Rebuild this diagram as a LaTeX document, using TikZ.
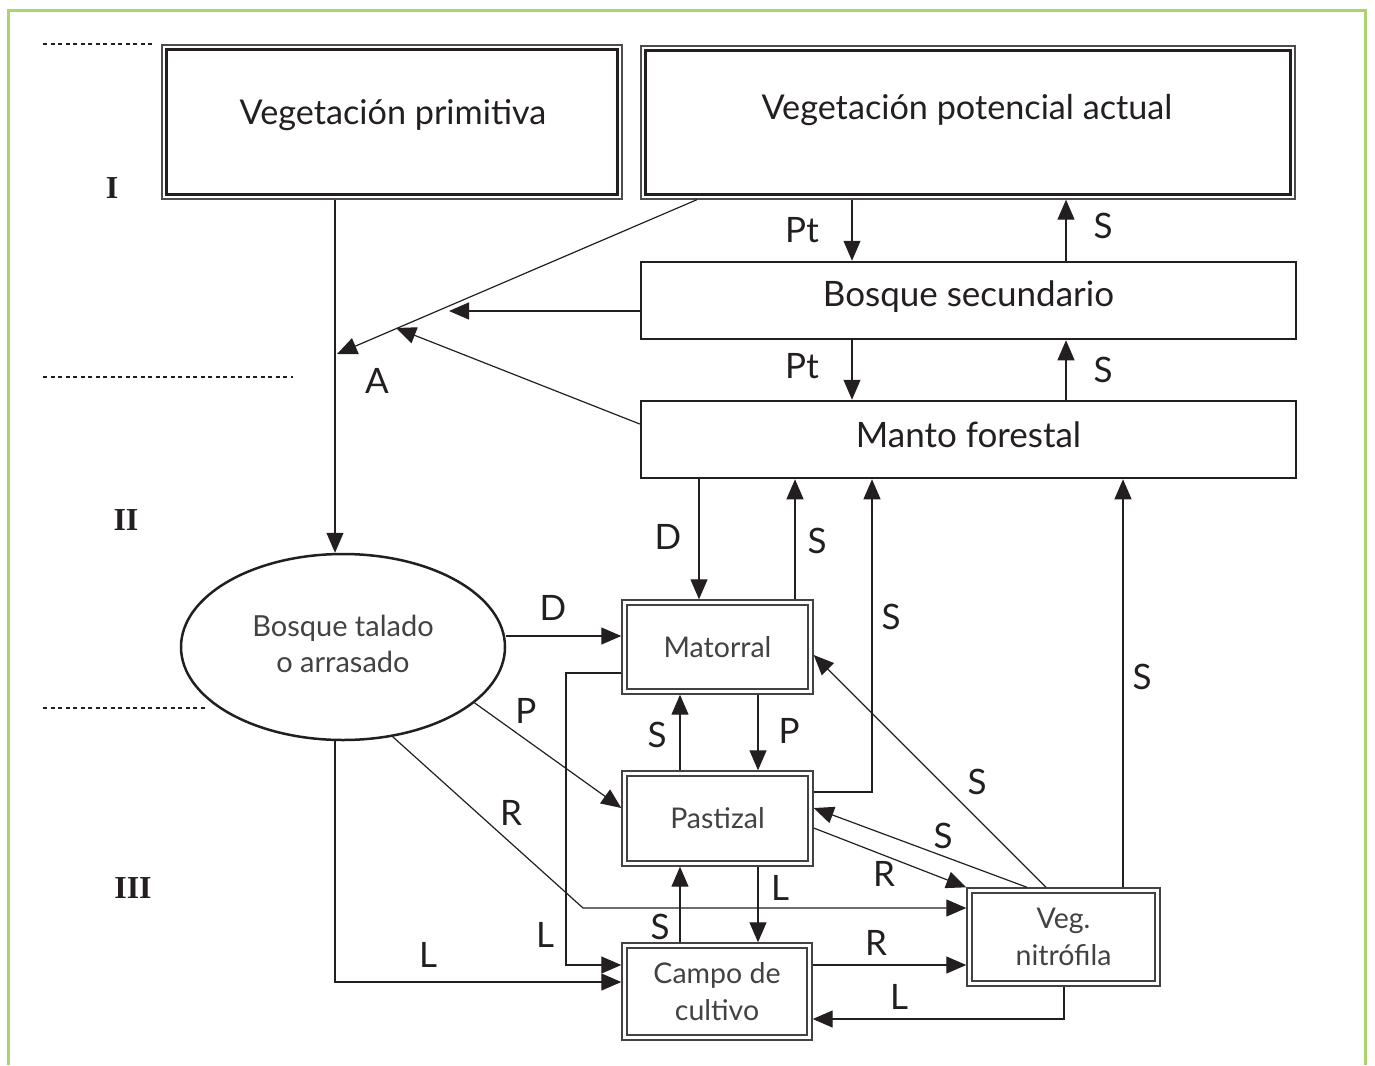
\documentclass[tikz,border=0pt]{standalone}
\usepackage{fontspec}
\setmainfont{Lato}
\newfontfamily\romanfont{Liberation Serif}
\usetikzlibrary{arrows.meta,shapes.geometric,calc}
\definecolor{frame}{RGB}{170,212,110}
\definecolor{ink}{RGB}{35,31,32}
\begin{document}
\begin{tikzpicture}[x=1pt,y=-1pt,
  conn/.style={draw=ink, line width=1.2pt},
  arr/.style={conn, -{Triangle[length=20pt,width=17pt]}},
  lab/.style={font=\fontsize{35}{40}\selectfont, text=ink, inner sep=0pt},
  num/.style={font=\romanfont\bfseries\fontsize{32}{36}\selectfont, text=ink, inner sep=0pt},
  dashline/.style={draw=ink, line width=2pt, dash pattern=on 4pt off 3.5pt},
  bigbox/.style={draw=ink!80, line width=1.3pt, rectangle, inner sep=0pt},
  bigtext/.style={font=\fontsize{34.2}{40}\selectfont, text=ink, inner sep=0pt},
  midbox/.style={draw=ink, line width=2.5pt, rectangle, inner sep=0pt, font=\fontsize{35}{40}\selectfont, text=ink},
  smallbox/.style={draw=ink!85, line width=1.4pt, double=white, double distance=3.6pt, rectangle, inner sep=0pt, outer sep=3.2pt, font=\fontsize{28.5}{37}\selectfont, text=ink!85, align=center},
]
\useasboundingbox (0,0) rectangle (1375,1065);
\draw[frame, line width=3pt] (8.5,1065) -- (8.5,11) -- (1365,11) -- (1365,1065);

% dashed level separators
\draw[dashline] (43,44) -- (155,44);
\draw[dashline] (43,377) -- (293,377);
\draw[dashline] (43,708) -- (205,708);

% level numerals
\node[num] (n1) at (112,188) {I};
\node[num] (n2) at (126,520) {II};
\node[num] (n3) at (133,888) {III};

% top boxes
\node[bigbox, minimum width=460pt, minimum height=154pt] (vprim) at (392,122) {};
\draw[draw=ink, line width=3pt] ([shift={(5.5,5.5)}]vprim.north west) rectangle ([shift={(-5.5,-5.5)}]vprim.south east);
\node[bigtext] (tprim) at (393,115) {Vegetación primitiva};
\node[bigbox, minimum width=654pt, minimum height=153pt] (vpot) at (968,122.5) {};
\draw[draw=ink, line width=3pt] ([shift={(5.5,5.5)}]vpot.north west) rectangle ([shift={(-5.5,-5.5)}]vpot.south east);
\node[bigtext] (tpot) at (967,110) {Vegetación potencial actual};

\node[midbox, minimum width=655pt, minimum height=77pt] (bsec) at (968.5,300.5) {\raisebox{14pt}{Bosque secundario}};
\node[midbox, minimum width=655pt, minimum height=77pt] (mf) at (968.5,439.5) {\raisebox{10pt}{Manto forestal}};

% ellipse
\node[draw=ink, line width=2.5pt, ellipse, minimum width=324pt, minimum height=186pt, inner sep=0pt, align=center,
      font=\fontsize{29}{36}\selectfont, text=ink!85] (ell) at (343,647) {\raisebox{6pt}{Bosque talado}\\\raisebox{6pt}{o arrasado}};

% small boxes
\node[smallbox, minimum width=186pt, minimum height=89pt] (mat) at (717.5,647) {Matorral};
\node[smallbox, minimum width=186pt, minimum height=90pt] (past) at (717.5,818.5) {Pastizal};
\node[smallbox, minimum width=185pt, minimum height=92pt] (camp) at (717,991.5) {Campo de\\cultivo};
\node[smallbox, minimum width=188pt, minimum height=93pt] (veg) at (1063.5,937) {Veg.\\nitrófila};

% helper coordinates
\coordinate (x335) at (335,0);
\coordinate (x566) at (566,0);
\coordinate (x583) at (583,0);
\coordinate (x680) at (680,0);
\coordinate (x697) at (697,0);
\coordinate (x699) at (699,0);
\coordinate (x758) at (758,0);
\coordinate (x795) at (795,0);
\coordinate (x852) at (852,0);
\coordinate (x872) at (872,0);
\coordinate (x1027) at (1027,0);
\coordinate (x1046) at (1046,0);
\coordinate (x1064) at (1064,0);
\coordinate (x1066) at (1066,0);
\coordinate (x1123) at (1123,0);
\coordinate (y311) at (0,311);
\coordinate (y424) at (0,424);
\coordinate (y636) at (0,636);
\coordinate (y655) at (0,655);
\coordinate (y673) at (0,673);
\coordinate (y792) at (0,792);
\coordinate (y808) at (0,808);
\coordinate (y828) at (0,828);
\coordinate (y908) at (0,908);
\coordinate (y965) at (0,965);
\coordinate (y982) at (0,982);
\coordinate (y1019) at (0,1019);
\coordinate (A1) at (337,354);
\coordinate (A2) at (449,311);
\coordinate (A3) at (396,328);

% upper connectors
\draw[arr] (vprim.south -| x335) -- (ell.north -| x335);
\draw[arr] (vpot.south -| x697) -- (A1);
\draw[arr] (bsec.west |- y311) -- (A2);
\draw[arr] (mf.west |- y424) -- (A3);
\node[lab] (lA) at (377,381) {A};

\draw[arr] (vpot.south -| x852) -- (bsec.north -| x852);
\draw[arr] (bsec.north -| x1066) -- (vpot.south -| x1066);
\draw[arr] (bsec.south -| x852) -- (mf.north -| x852);
\draw[arr] (mf.north -| x1066) -- (bsec.south -| x1066);
\node[lab] (lPt1) at (802,230) {Pt};
\node[lab] (lS1) at (1103,226) {S};
\node[lab] (lPt2) at (802,366) {Pt};
\node[lab] (lS2) at (1103,370) {S};

% manto connections
\draw[arr] (mf.south -| x699) -- (mat.north -| x699);
\node[lab] (lD1) at (668,537) {D};
\draw[arr] (mat.north -| x795) -- (mf.south -| x795);
\node[lab] (lS3) at (817,541) {S};
\draw[arr] (past.east |- y792) -- (x872 |- y792) -- (mf.south -| x872);
\node[lab] (lS4) at (891,617) {S};
\draw[arr] (veg.north -| x1123) -- (mf.south -| x1123);
\node[lab] (lS5) at (1142,677) {S};

% ellipse connections
\draw[arr] (ell.east |- y636) -- (mat.west |- y636);
\node[lab] (lD2) at (553,608) {D};
\draw[arr] (ell.-23) -- (past.west |- y808);
\node[lab] (lP1) at (526,711) {P};
\draw[arr] (ell.-61) -- (x583 |- y908) -- (veg.west |- y908);
\node[lab] (lR1) at (511,813) {R};
\draw[arr] (ell.south -| x335) -- (x335 |- y982) -- (camp.west |- y982);
\node[lab] (lL1) at (428,955) {L};
\draw[arr] (mat.west |- y673) -- (x566 |- y673) -- (x566 |- y965) -- (camp.west |- y965);
\node[lab] (lL2) at (545,935) {L};

% column connections
\draw[arr] (past.north -| x680) -- (mat.south -| x680);
\node[lab] (lS6) at (657,735) {S};
\draw[arr] (mat.south -| x758) -- (past.north -| x758);
\node[lab] (lP2) at (789,731) {P};
\draw[arr] (camp.north -| x680) -- (past.south -| x680);
\node[lab] (lS7) at (660,927) {S};
\draw[arr] (past.south -| x758) -- (camp.north -| x758);
\node[lab] (lL3) at (780,888) {L};

% nitrophilous connections
\draw[arr] (past.east |- y828) -- (veg.north west);
\node[lab] (lR2) at (884,874) {R};
\draw[arr] (veg.north -| x1027) -- (past.east |- y808);
\node[lab] (lS8) at (943,836) {S};
\draw[arr] (veg.north -| x1046) -- (mat.east |- y655);
\node[lab] (lS9) at (977,782) {S};
\draw[arr] (camp.east |- y965) -- (veg.west |- y965);
\node[lab] (lR3) at (876,943) {R};
\draw[arr] (veg.south -| x1064) -- (x1064 |- y1019) -- (camp.east |- y1019);
\node[lab] (lL4) at (899,997) {L};
\end{tikzpicture}
\end{document}
